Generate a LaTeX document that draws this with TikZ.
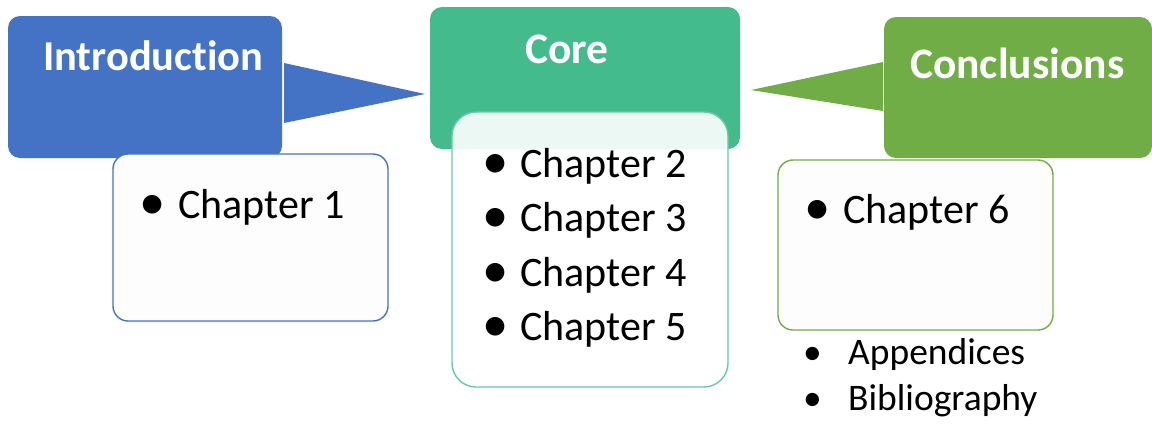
\documentclass[tikz,border=0pt]{standalone}
\usepackage{fontspec}
\setmainfont[Ligatures=CommonOff]{Carlito}
\definecolor{introblue}{HTML}{4472C4}
\definecolor{coregreen}{HTML}{44BB8D}
\definecolor{conclgreen}{HTML}{70AD47}
\definecolor{boxfill}{HTML}{FDFDFD}
\newcommand{\bigbul}{\raisebox{-1.5pt}{\scalebox{1.25}{•}}}
\begin{document}
\begin{tikzpicture}[x=1pt,y=-1pt,
  headbox/.style={rounded corners=12pt},
  headtext/.style={anchor=base west,inner sep=0pt,text=white,font=\fontsize{43.5}{50}\selectfont\bfseries},
  itemtext/.style={anchor=base west,inner sep=0pt,font=\fontsize{42}{50}\selectfont},
  smalltext/.style={anchor=base west,inner sep=0pt,font=\fontsize{37.5}{44}\selectfont},
  listbox/.style={line width=1.4pt,fill=boxfill}
]
\useasboundingbox (0,0) rectangle (1152,424);
% head boxes
\fill[introblue,headbox] (8,16) rectangle (282,158);
\fill[coregreen,headbox] (430,7) rectangle (740,149);
\fill[conclgreen,headbox] (884,17) rectangle (1152,158);
% pointer triangles
\coordinate (ia) at (284,63);
\coordinate (ib) at (284,123);
\coordinate (it) at (425,94);
\fill[introblue] (ia) -- (it) -- (ib) -- cycle;
\coordinate (ca) at (883,62);
\coordinate (cb) at (883,111);
\coordinate (ct) at (751,90);
\fill[conclgreen] (ca) -- (ct) -- (cb) -- cycle;
% heading texts
\node[headtext,font=\fontsize{42.5}{50}\selectfont\bfseries] (intro) at (43,70) {Introduction};
\node[headtext] (core) at (525,63) {Core};
\node[headtext] (concl) at (910,78) {Conclusions};
% list boxes
\draw[listbox,draw=introblue,rounded corners=15pt] (113,154) rectangle (388,321);
\draw[line width=1.4pt,draw=coregreen!80,fill=white,fill opacity=0.9,rounded corners=24pt] (452,112) rectangle (728,387);
\draw[listbox,draw=conclgreen,rounded corners=15pt] (778,160) rectangle (1053,330);
% items
\node[itemtext] (b1) at (139,218) {\bigbul};
\node[itemtext] (c1) at (178,218) {Chapter 1};
\node[itemtext] (b2) at (482,177) {\bigbul};
\node[itemtext] (c2) at (520,177) {Chapter 2};
\node[itemtext] (b3) at (482,231) {\bigbul};
\node[itemtext] (c3) at (520,231) {Chapter 3};
\node[itemtext] (b4) at (482,286) {\bigbul};
\node[itemtext] (c4) at (520,286) {Chapter 4};
\node[itemtext] (b5) at (482,340) {\bigbul};
\node[itemtext] (c5) at (520,340) {Chapter 5};
\node[itemtext] (b6) at (804,223) {\bigbul};
\node[itemtext] (c6) at (843,223) {Chapter 6};
\node[smalltext] (ba) at (803,364) {•};
\node[smalltext] (app) at (848,364) {Appendices};
\node[smalltext] (bb) at (803,410) {•};
\node[smalltext] (bib) at (848,410) {Bibliography};
\end{tikzpicture}
\end{document}
